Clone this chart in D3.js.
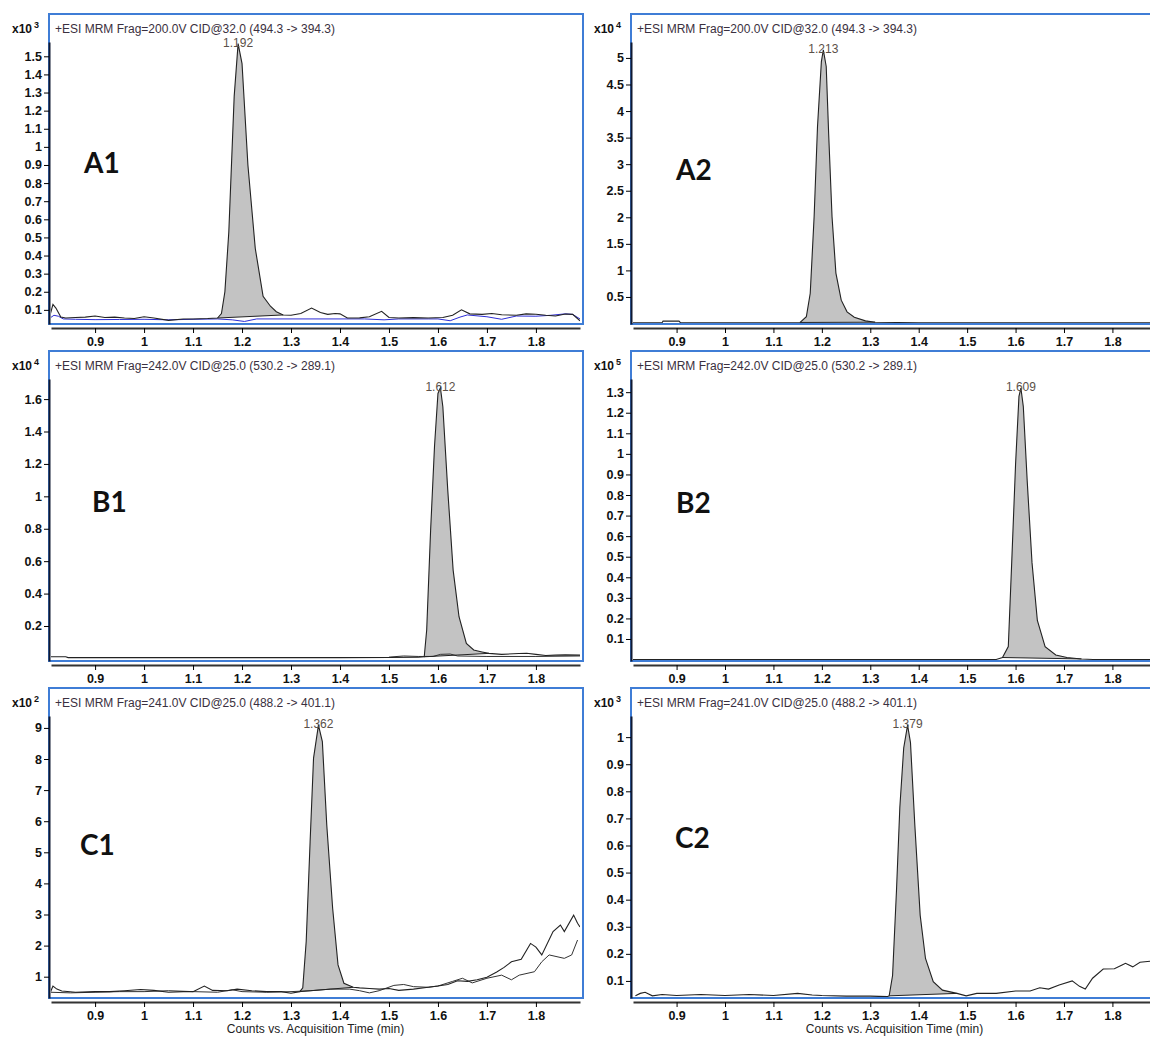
<!DOCTYPE html>
<html lang="en">
<head>
    <meta charset="UTF-8">
    <title>MRM Chromatograms</title>
    <script src="https://d3js.org/d3.v7.min.js"></script>
    <style>
        body { margin: 0; background: #fff; }
        svg { display: block; font-family: "Liberation Sans", Arial, sans-serif; }
        .tick text { font-size: 12.5px; font-weight: bold; fill: #111; }
        .title { font-size: 12px; fill: #3a3040; }
        .peak-label { font-size: 12px; fill: #5a5048; }
        .panel-name { font-family: Lato, "Open Sans", sans-serif; font-size: 28px; font-weight: 700; fill: #111; }
        .axis-title { font-size: 12px; fill: #222; }
    </style>
</head>
<body>
<script>
// panel text
const panelNames = ["A1", "A2", "B1", "B2", "C1", "C2"];
const panelTitles = [
    "+ESI MRM Frag=200.0V CID@32.0 (494.3 -> 394.3)",
    "+ESI MRM Frag=200.0V CID@32.0 (494.3 -> 394.3)",
    "+ESI MRM Frag=242.0V CID@25.0 (530.2 -> 289.1)",
    "+ESI MRM Frag=242.0V CID@25.0 (530.2 -> 289.1)",
    "+ESI MRM Frag=241.0V CID@25.0 (488.2 -> 401.1)",
    "+ESI MRM Frag=241.0V CID@25.0 (488.2 -> 401.1)"
];
const countExponents = [3, 4, 4, 5, 2, 3];
const peakLabels = ["1.192", "1.213", "1.612", "1.609", "1.362", "1.379"];
const xLabel = "Counts vs. Acquisition Time (min)";

// axes
const timeDomain = [0.81, 1.89];
const xTicks = [0.9, 1, 1.1, 1.2, 1.3, 1.4, 1.5, 1.6, 1.7, 1.8];
const yTicksA1 = [0.1, 0.2, 0.3, 0.4, 0.5, 0.6, 0.7, 0.8, 0.9, 1, 1.1, 1.2, 1.3, 1.4, 1.5];
const yTicksA2 = [0.5, 1, 1.5, 2, 2.5, 3, 3.5, 4, 4.5, 5];
const yTicksB1 = [0.2, 0.4, 0.6, 0.8, 1, 1.2, 1.4, 1.6];
const yTicksB2 = [0.1, 0.2, 0.3, 0.4, 0.5, 0.6, 0.7, 0.8, 0.9, 1, 1.1, 1.2, 1.3];
const yTicksC1 = [1, 2, 3, 4, 5, 6, 7, 8, 9];
const yTicksC2 = [0.1, 0.2, 0.3, 0.4, 0.5, 0.6, 0.7, 0.8, 0.9, 1];
const yDomains = [[0.022, 1.579], [-0.009, 5.30], [-0.016, 1.724], [-0.007, 1.364], [0.315, 9.383], [0.037, 1.078]];

// integrated peak windows (min)
const peakWindows = [[1.150, 1.284], [1.155, 1.31], [1.572, 1.704], [1.573, 1.736], [1.318, 1.427], [1.339, 1.479]];

// A1 (x10^3)
const a1Time = [0.808, 0.814, 0.82, 0.83, 0.84, 0.86, 0.88, 0.90, 0.92, 0.94, 0.96, 0.98, 1.00, 1.02, 1.05, 1.08, 1.10, 1.13,
    1.150, 1.158, 1.165, 1.173, 1.184, 1.192, 1.200, 1.212, 1.227, 1.243, 1.258, 1.27, 1.284, 1.30, 1.32, 1.342, 1.36, 1.375,
    1.39, 1.40, 1.415, 1.44, 1.46, 1.485, 1.50, 1.52, 1.55, 1.58, 1.61, 1.63, 1.648, 1.665, 1.69, 1.71, 1.73, 1.76, 1.78,
    1.80, 1.82, 1.84, 1.86, 1.875, 1.89];
const a1Counts = [0.07, 0.13, 0.11, 0.06, 0.055, 0.058, 0.06, 0.066, 0.058, 0.06, 0.055, 0.052, 0.062, 0.055, 0.042, 0.05, 0.05, 0.052,
    0.055, 0.08, 0.2, 0.53, 1.28, 1.57, 1.46, 0.90, 0.44, 0.175, 0.12, 0.09, 0.072, 0.07, 0.08, 0.11, 0.085, 0.075,
    0.08, 0.078, 0.055, 0.056, 0.062, 0.092, 0.058, 0.055, 0.057, 0.055, 0.058, 0.07, 0.1, 0.078, 0.075, 0.08, 0.073, 0.07, 0.078,
    0.076, 0.07, 0.066, 0.077, 0.075, 0.04];
const a1BlueTime = [0.808, 0.816, 0.825, 0.835, 0.86, 0.9, 0.95, 1.0, 1.05, 1.1, 1.15, 1.18, 1.205, 1.23, 1.3, 1.4, 1.45, 1.49,
    1.52, 1.58, 1.6, 1.625, 1.645, 1.66, 1.7, 1.73, 1.76, 1.8, 1.83, 1.86, 1.875, 1.89];
const a1BlueCounts = [0.055, 0.07, 0.065, 0.05, 0.048, 0.046, 0.047, 0.048, 0.045, 0.048, 0.05, 0.045, 0.036, 0.05, 0.05, 0.05, 0.05, 0.045,
    0.05, 0.05, 0.05, 0.04, 0.06, 0.072, 0.062, 0.048, 0.066, 0.065, 0.07, 0.078, 0.075, 0.05];

// A2 (x10^4)
const a2Time = [0.81, 0.87, 0.872, 0.905, 0.908, 1.0, 1.1, 1.155, 1.168, 1.176, 1.184, 1.191, 1.199, 1.203, 1.209, 1.214,
    1.221, 1.229, 1.24, 1.252, 1.267, 1.29, 1.31, 1.4, 1.6, 1.89];
const a2Counts = [0.015, 0.015, 0.045, 0.045, 0.015, 0.015, 0.015, 0.02, 0.13, 0.57, 2.01, 3.71, 4.93, 5.15, 4.84, 3.58,
    2.01, 0.95, 0.44, 0.22, 0.12, 0.05, 0.025, 0.015, 0.015, 0.015];

// B1 (x10^4)
const b1Time = [0.81, 0.84, 0.845, 1.0, 1.2, 1.4, 1.5, 1.56, 1.572, 1.577, 1.585, 1.593, 1.600, 1.605, 1.61, 1.62, 1.631,
    1.643, 1.658, 1.673, 1.69, 1.704, 1.73, 1.765, 1.781, 1.80, 1.82, 1.84, 1.86, 1.89];
const b1Counts = [0.01, 0.01, 0.005, 0.005, 0.005, 0.005, 0.006, 0.008, 0.01, 0.175, 0.79, 1.31, 1.635, 1.67, 1.553, 1.04, 0.545,
    0.257, 0.093, 0.052, 0.04, 0.031, 0.025, 0.03, 0.032, 0.025, 0.018, 0.02, 0.022, 0.02];
const b1OverlayTime = [1.50, 1.53, 1.56, 1.59, 1.605, 1.625, 1.64, 1.70, 1.80, 1.89];
const b1OverlayCounts = [0.008, 0.015, 0.012, 0.012, 0.025, 0.027, 0.015, 0.012, 0.012, 0.015];

// B2 (x10^5)
const b2Time = [0.81, 1.0, 1.3, 1.56, 1.573, 1.585, 1.592, 1.60, 1.607, 1.611, 1.616, 1.624, 1.634, 1.645, 1.661, 1.683,
    1.706, 1.736, 1.76, 1.89];
const b2Counts = [0.0, 0.0, 0.0, 0.0, 0.01, 0.063, 0.47, 0.95, 1.28, 1.32, 1.23, 0.87, 0.47, 0.19, 0.063, 0.022,
    0.01, 0.003, 0.0, 0.0];

// C1 (x10^2)
const c1Time = [0.808, 0.814, 0.822, 0.832, 0.86, 0.9, 0.93, 0.96, 0.993, 1.02, 1.05, 1.08, 1.1, 1.123, 1.14, 1.17, 1.19,
    1.22, 1.25, 1.28, 1.30, 1.318, 1.324, 1.331, 1.339, 1.346, 1.356, 1.364, 1.373, 1.385, 1.396, 1.408, 1.427, 1.44,
    1.46, 1.48, 1.5, 1.52, 1.55, 1.58, 1.6, 1.62, 1.64, 1.66, 1.68, 1.7, 1.72, 1.735, 1.75, 1.77, 1.789, 1.80, 1.812,
    1.835, 1.85, 1.858, 1.877, 1.885, 1.89];
const c1Counts = [0.47, 0.70, 0.6, 0.54, 0.5, 0.52, 0.52, 0.55, 0.59, 0.56, 0.5, 0.52, 0.52, 0.70, 0.56, 0.55, 0.6,
    0.55, 0.52, 0.52, 0.47, 0.52, 0.64, 2.13, 5.34, 8.03, 9.09, 8.56, 5.88, 3.2, 1.38, 0.79, 0.66, 0.64,
    0.62, 0.6, 0.62, 0.56, 0.6, 0.66, 0.7, 0.75, 0.87, 0.85, 0.9, 0.98, 1.15, 1.3, 1.48, 1.56, 2.07, 1.95, 1.70,
    2.45, 2.66, 2.45, 2.98, 2.72, 2.6];
const c1OverlayTime = [0.808, 0.85, 0.9, 0.95, 1.0, 1.05, 1.1, 1.15, 1.18, 1.2, 1.25, 1.3, 1.34, 1.38, 1.42, 1.44, 1.46,
    1.48, 1.51, 1.53, 1.55, 1.58, 1.6, 1.63, 1.65, 1.67, 1.7, 1.73, 1.75, 1.766, 1.797, 1.812, 1.827, 1.858, 1.873, 1.885];
const c1OverlayCounts = [0.5, 0.48, 0.5, 0.52, 0.52, 0.55, 0.52, 0.5, 0.58, 0.52, 0.5, 0.52, 0.55, 0.6, 0.6, 0.55, 0.48,
    0.55, 0.72, 0.75, 0.68, 0.66, 0.7, 0.85, 0.95, 0.8, 0.95, 1.05, 0.9, 1.05, 1.16, 1.48, 1.7, 1.59, 1.7, 2.18];

// C2 (x10^3)
const c2Time = [0.815, 0.825, 0.835, 0.85, 0.87, 0.9, 0.95, 1.0, 1.05, 1.1, 1.15, 1.18, 1.2, 1.25, 1.3, 1.335, 1.339,
    1.346, 1.354, 1.361, 1.369, 1.377, 1.383, 1.392, 1.403, 1.414, 1.43, 1.449, 1.479, 1.498, 1.52, 1.56, 1.6, 1.63,
    1.65, 1.668, 1.69, 1.717, 1.732, 1.744, 1.759, 1.781, 1.804, 1.82, 1.827, 1.842, 1.857, 1.879, 1.89];
const c2Counts = [0.045, 0.054, 0.058, 0.045, 0.05, 0.046, 0.05, 0.046, 0.05, 0.046, 0.054, 0.048, 0.046, 0.044, 0.044, 0.042, 0.045,
    0.12, 0.43, 0.74, 0.96, 1.044, 0.98, 0.675, 0.343, 0.183, 0.097, 0.066, 0.054, 0.045, 0.054, 0.054, 0.063, 0.063,
    0.075, 0.07, 0.085, 0.1, 0.08, 0.07, 0.11, 0.144, 0.145, 0.159, 0.165, 0.152, 0.169, 0.173, 0.175];

const zip = (t, v) => t.map((d, i) => [d, v[i]]);
const yTicks = [yTicksA1, yTicksA2, yTicksB1, yTicksB2, yTicksC1, yTicksC2];
const mainTraces = [zip(a1Time, a1Counts), zip(a2Time, a2Counts), zip(b1Time, b1Counts),
    zip(b2Time, b2Counts), zip(c1Time, c1Counts), zip(c2Time, c2Counts)];
const overlayTraces = [
    [{ pts: zip(a1BlueTime, a1BlueCounts), color: "#2d2dd6" }],
    [],
    [{ pts: zip(b1OverlayTime, b1OverlayCounts), color: "#333" }],
    [],
    [{ pts: zip(c1OverlayTime, c1OverlayCounts), color: "#333" }],
    []
];

// layout
const W = 1150, H = 1037;
const rowTop = [14, 351, 688];
const boxH = 310;
const cols = [
    { boxX: 49, boxW: 534, plot: [51, 580] },
    { boxX: 631, boxW: 527, plot: [633, 1156] }
];
const nameBaseline = [[84, 159], [676, 166], [92, 161], [676, 162], [80, 167], [675, 160]];

const svg = d3.select("body").append("svg")
    .attr("width", W)
    .attr("height", H);

panelNames.forEach((name, i) => {
    const row = Math.floor(i / 2), col = cols[i % 2];
    const top = rowTop[row], bottom = top + boxH;

    const x = d3.scaleLinear().domain(timeDomain).range(col.plot);
    const y = d3.scaleLinear().domain(yDomains[i]).range([bottom, top + 28]);

    const g = svg.append("g");

    const clipId = "clip" + i;
    g.append("clipPath").attr("id", clipId)
        .append("rect")
        .attr("x", col.plot[0]).attr("y", top + 2)
        .attr("width", col.plot[1] - col.plot[0]).attr("height", boxH - 2);

    const plot = g.append("g").attr("clip-path", `url(#${clipId})`);
    const line = d3.line().x(d => x(d[0])).y(d => y(d[1]));

    // integrated peak: trace above, straight baseline below
    const trace = mainTraces[i];
    const [t0, t1] = peakWindows[i];
    const seg = trace.filter(d => d[0] >= t0 && d[0] <= t1);
    const base = d3.scaleLinear()
        .domain([seg[0][0], seg[seg.length - 1][0]])
        .range([seg[0][1], seg[seg.length - 1][1]]);
    const area = d3.area()
        .x(d => x(d[0]))
        .y0(d => y(base(d[0])))
        .y1(d => y(d[1]));
    plot.append("path").datum(seg)
        .attr("d", area)
        .attr("fill", "#c3c3c3");

    overlayTraces[i].forEach(o => {
        plot.append("path").datum(o.pts)
            .attr("d", line)
            .attr("fill", "none")
            .attr("stroke", o.color)
            .attr("stroke-width", 1);
    });

    plot.append("path").datum(trace)
        .attr("d", line)
        .attr("fill", "none")
        .attr("stroke", "#222")
        .attr("stroke-width", 1.1);

    plot.append("line")
        .attr("x1", x(seg[0][0])).attr("y1", y(seg[0][1]))
        .attr("x2", x(seg[seg.length - 1][0])).attr("y2", y(seg[seg.length - 1][1]))
        .attr("stroke", "#222")
        .attr("stroke-width", 1);

    // frame
    g.append("rect")
        .attr("x", col.boxX).attr("y", top)
        .attr("width", col.boxW).attr("height", boxH)
        .attr("fill", "none")
        .attr("stroke", "#3f7dd6")
        .attr("stroke-width", 2);

    // axes
    g.append("g")
        .attr("transform", `translate(${col.boxX},0)`)
        .call(d3.axisLeft(y).tickValues(yTicks[i]).tickSize(5).tickSizeOuter(0)
            .tickFormat(d3.format("~g")).tickPadding(2))
        .select(".domain").attr("stroke", "#111a33").attr("stroke-width", 2);

    g.append("g")
        .attr("transform", `translate(0,${bottom + 4})`)
        .call(d3.axisBottom(x).tickValues(xTicks).tickSize(5).tickSizeOuter(0)
            .tickFormat(d3.format("~g")).tickPadding(4))
        .select(".domain").attr("stroke", "#333").attr("stroke-width", 2);

    // multiplier
    const mult = g.append("text")
        .attr("x", col.boxX - 37).attr("y", top + 19)
        .attr("font-size", 12).attr("font-weight", "bold").attr("fill", "#111");
    mult.append("tspan").text("x10");
    mult.append("tspan").attr("dx", 2).attr("dy", -5).attr("font-size", 9).text(countExponents[i]);

    g.append("text").attr("class", "title")
        .attr("x", col.boxX + 6).attr("y", top + 19)
        .text(panelTitles[i]);

    // apex label
    const apex = d3.greatest(trace, d => d[1]);
    g.append("text").attr("class", "peak-label")
        .attr("x", x(apex[0])).attr("y", y(apex[1]) - 1)
        .attr("dy", "0.35em")
        .attr("text-anchor", "middle")
        .text(peakLabels[i]);

    g.append("text").attr("class", "panel-name")
        .attr("x", nameBaseline[i][0]).attr("y", top + nameBaseline[i][1])
        .text(name);

    if (row === 2) {
        g.append("text").attr("class", "axis-title")
            .attr("x", (col.plot[0] + col.plot[1]) / 2).attr("y", bottom + 35)
            .attr("text-anchor", "middle")
            .text(xLabel);
    }
});
</script>
</body>
</html>
